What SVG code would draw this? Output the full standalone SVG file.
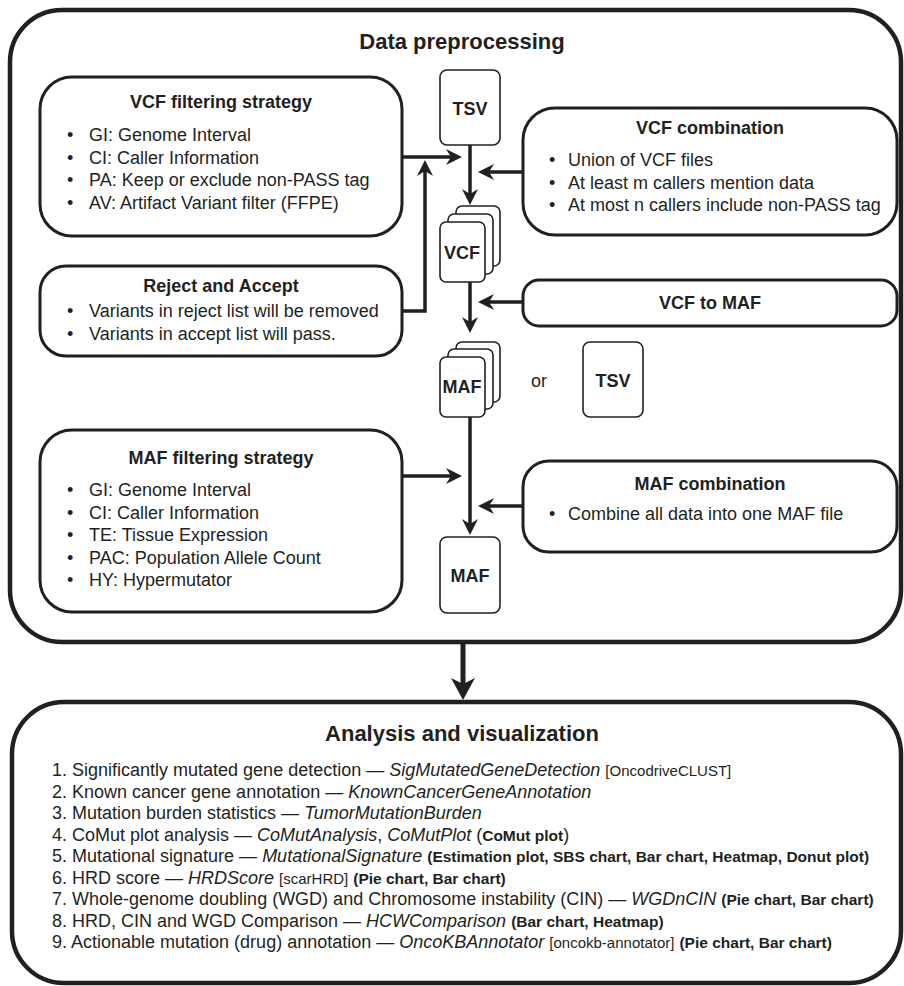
<svg xmlns="http://www.w3.org/2000/svg" width="904" height="986" viewBox="0 0 904 986">
<defs>
<style>
text{font-family:"Liberation Sans",Arial,sans-serif;fill:#231f20}
.h1{font-size:22px;font-weight:bold;text-anchor:middle}
.h2{font-size:18px;font-weight:bold;text-anchor:middle}
.b{font-size:18px}
.fl{font-size:18px;font-weight:bold;text-anchor:middle}
.it{font-style:italic}
.sm{font-size:15px}
.smb{font-size:15.5px;font-weight:bold}
.frame{fill:#fff;stroke:#231f20;stroke-width:4.5}
.box{fill:#fff;stroke:#231f20;stroke-width:3}
.file{fill:#fff;stroke:#231f20;stroke-width:1.6}
.con{fill:none;stroke:#231f20;stroke-width:3.5;marker-end:url(#ah)}
.big{fill:none;stroke:#231f20;stroke-width:5;marker-end:url(#ahb)}
</style>
<marker id="ah" markerUnits="userSpaceOnUse" markerWidth="18" markerHeight="16" refX="5" refY="8" orient="auto"><path d="M0,0 L16,8 L0,16 L5,8 Z" fill="#231f20"/></marker>
<marker id="ahb" markerUnits="userSpaceOnUse" markerWidth="24" markerHeight="24" refX="6" refY="12" orient="auto"><path d="M0,0 L22,12 L0,24 L6,12 Z" fill="#231f20"/></marker>
</defs>
<rect width="904" height="986" fill="#fff"/>

<g id="data-preprocessing">
<rect class="frame" x="10" y="10" width="891" height="632" rx="52"/>
<text class="h1" x="462" y="49">Data preprocessing</text>
</g>

<g id="analysis-visualization">
<rect class="frame" x="12" y="702" width="889" height="281" rx="52"/>
<text class="h1" x="462" y="741">Analysis and visualization</text>
<text class="b" x="52" y="776">1. Significantly mutated gene detection — <tspan class="it">SigMutatedGeneDetection</tspan> <tspan class="sm">[OncodriveCLUST]</tspan></text>
<text class="b" x="52" y="797.5">2. Known cancer gene annotation — <tspan class="it">KnownCancerGeneAnnotation</tspan></text>
<text class="b" x="52" y="819">3. Mutation burden statistics — <tspan class="it">TumorMutationBurden</tspan></text>
<text class="b" x="52" y="840.5">4. CoMut plot analysis — <tspan class="it">CoMutAnalysis</tspan>, <tspan class="it">CoMutPlot</tspan> (<tspan class="smb">CoMut plot</tspan>)</text>
<text class="b" x="52" y="862">5. Mutational signature — <tspan class="it">MutationalSignature</tspan> <tspan class="smb">(Estimation plot, SBS chart, Bar chart, Heatmap, Donut plot)</tspan></text>
<text class="b" x="52" y="883.5">6. HRD score — <tspan class="it">HRDScore</tspan> <tspan class="sm">[scarHRD]</tspan> <tspan class="smb">(Pie chart, Bar chart)</tspan></text>
<text class="b" x="52" y="905">7. Whole-genome doubling (WGD) and Chromosome instability (CIN) — <tspan class="it">WGDnCIN</tspan> <tspan class="smb">(Pie chart, Bar chart)</tspan></text>
<text class="b" x="52" y="926.5">8. HRD, CIN and WGD Comparison — <tspan class="it">HCWComparison</tspan> <tspan class="smb">(Bar chart, Heatmap)</tspan></text>
<text class="b" x="52" y="948">9. Actionable mutation (drug) annotation — <tspan class="it">OncoKBAnnotator</tspan> <tspan class="sm">[oncokb-annotator]</tspan> <tspan class="smb">(Pie chart, Bar chart)</tspan></text>
</g>

<g id="vcf-filtering">
<rect class="box" x="40" y="77" width="362" height="159" rx="32"/>
<text class="h2" x="221" y="108">VCF filtering strategy</text>
<text class="b" x="67" y="141">•<tspan x="89">GI: Genome Interval</tspan></text>
<text class="b" x="67" y="163.5">•<tspan x="89">CI: Caller Information</tspan></text>
<text class="b" x="67" y="186">•<tspan x="89">PA: Keep or exclude non-PASS tag</tspan></text>
<text class="b" x="67" y="208.5">•<tspan x="89">AV: Artifact Variant filter (FFPE)</tspan></text>
</g>

<g id="reject-accept">
<rect class="box" x="40" y="266" width="362" height="90" rx="26"/>
<text class="h2" x="221" y="292">Reject and Accept</text>
<text class="b" x="67" y="317">•<tspan x="89">Variants in reject list will be removed</tspan></text>
<text class="b" x="67" y="339.5">•<tspan x="89">Variants in accept list will pass.</tspan></text>
</g>

<g id="maf-filtering">
<rect class="box" x="40" y="430" width="362" height="182" rx="32"/>
<text class="h2" x="221" y="464">MAF filtering strategy</text>
<text class="b" x="67" y="496">•<tspan x="89">GI: Genome Interval</tspan></text>
<text class="b" x="67" y="518.5">•<tspan x="89">CI: Caller Information</tspan></text>
<text class="b" x="67" y="541">•<tspan x="89">TE: Tissue Expression</tspan></text>
<text class="b" x="67" y="563.5">•<tspan x="89">PAC: Population Allele Count</tspan></text>
<text class="b" x="67" y="586">•<tspan x="89">HY: Hypermutator</tspan></text>
</g>

<g id="vcf-combination">
<rect class="box" x="523" y="108" width="374" height="127" rx="32"/>
<text class="h2" x="710" y="134">VCF combination</text>
<text class="b" x="549" y="166">•<tspan x="568">Union of VCF files</tspan></text>
<text class="b" x="549" y="188.5">•<tspan x="568">At least m callers mention data</tspan></text>
<text class="b" x="549" y="211">•<tspan x="568">At most n callers include non-PASS tag</tspan></text>
</g>

<g id="vcf-to-maf">
<rect class="box" x="523" y="280" width="374" height="46" rx="16"/>
<text class="h2" x="710" y="309">VCF to MAF</text>
</g>

<g id="maf-combination">
<rect class="box" x="523" y="461" width="374" height="91" rx="26"/>
<text class="h2" x="710" y="490">MAF combination</text>
<text class="b" x="549" y="520">•<tspan x="568">Combine all data into one MAF file</tspan></text>
</g>

<g id="tsv-input">
<rect class="file" x="440" y="70" width="60" height="75" rx="7"/>
<text class="fl" x="470" y="115">TSV</text>
</g>

<g id="vcf-files">
<rect class="file" x="456" y="206" width="44" height="60" rx="6"/>
<rect class="file" x="448" y="214" width="45" height="60" rx="6"/>
<rect class="file" x="440" y="222" width="45" height="60" rx="6"/>
<text class="fl" x="462" y="259">VCF</text>
</g>

<g id="maf-files">
<rect class="file" x="456" y="342" width="44" height="60" rx="6"/>
<rect class="file" x="448" y="349" width="45" height="60" rx="6"/>
<rect class="file" x="440" y="357" width="45" height="60" rx="6"/>
<text class="fl" x="462" y="393">MAF</text>
</g>

<g id="or-label">
<text class="b" x="539" y="387" text-anchor="middle">or</text>
</g>

<g id="tsv-alt">
<rect class="file" x="583" y="342" width="60" height="75" rx="7"/>
<text class="fl" x="613" y="387">TSV</text>
</g>

<g id="maf-output">
<rect class="file" x="440" y="537" width="60" height="76" rx="7"/>
<text class="fl" x="470" y="582">MAF</text>
</g>

<g id="connectors">
<path class="con" d="M402,157 H451"/>
<path class="con" d="M402,311 H425 V171"/>
<path class="con" d="M470,145 V194"/>
<path class="con" d="M523,172 H489"/>
<path class="con" d="M470,282 V322"/>
<path class="con" d="M523,302 H489"/>
<path class="con" d="M470,417 V524"/>
<path class="con" d="M402,476 H451"/>
<path class="con" d="M523,506 H489"/>
<path class="big" d="M463,642 V684"/>
</g>
</svg>
